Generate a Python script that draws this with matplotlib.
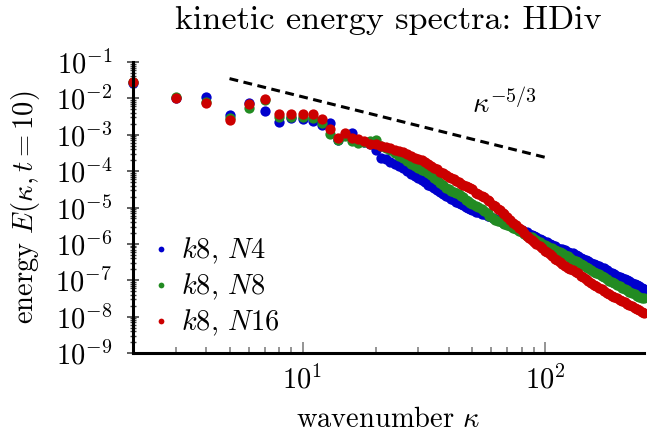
import numpy as np
import matplotlib
matplotlib.use("Agg")
import matplotlib.pyplot as plt
from matplotlib.ticker import LogLocator, FixedLocator, NullFormatter

plt.rcParams.update({
    "font.family": "cmr10",
    "mathtext.fontset": "cm",
    "axes.formatter.use_mathtext": True,
    "font.size": 20.5,
})

# wavenumbers (integer shells; thinned out where the points merge into a band)
K = [2, 3, 4, 5, 6, 7, 8, 9, 10, 11, 12, 13, 14, 15, 16, 17, 18, 19, 20, 21,
     22, 23, 24, 25, 26, 27, 28, 29,
     30, 31, 32, 33, 34, 35, 36, 37, 38, 39, 40,
     41, 42, 43, 44, 45, 46, 47, 48, 49, 50,
     52, 53, 55, 56, 58, 59, 61, 62, 64, 65,
     67, 68, 70, 72, 74, 76, 78, 80, 82, 84,
     86, 88, 90, 92, 95, 97, 100, 102, 105, 107,
     110, 112, 115, 118, 121, 124, 127, 130, 134, 137,
     141, 144, 148, 151, 155, 159, 163, 167, 171, 175,
     180, 184, 189, 193, 198, 203, 208, 213, 218, 223,
     229, 234, 240, 245, 251, 256]

# log10 of E(kappa, t=10)
LOG_E_N4 = [-1.57, -1.98, -1.97, -2.46, -2.12, -2.34, -2.65, -2.55, -2.58, -2.63,
            -2.72, -2.69, -3.13, -3.00, -2.94, -3.19, -3.19, -3.24, -3.42, -3.63,
            -3.67, -3.75, -3.81, -3.87, -3.92, -4.00, -4.09, -4.14,
            -4.20, -4.25, -4.30, -4.37, -4.42, -4.47, -4.53, -4.58, -4.62, -4.68, -4.72,
            -4.76, -4.80, -4.84, -4.88, -4.90, -4.93, -4.98, -5.02, -5.05, -5.08,
            -5.11, -5.13, -5.17, -5.19, -5.23, -5.24, -5.29, -5.31, -5.35, -5.37,
            -5.40, -5.42, -5.46, -5.49, -5.53, -5.57, -5.60, -5.63, -5.66, -5.68,
            -5.72, -5.75, -5.79, -5.82, -5.87, -5.90, -5.94, -5.96, -6.00, -6.03,
            -6.07, -6.10, -6.13, -6.15, -6.18, -6.21, -6.24, -6.26, -6.30, -6.34,
            -6.38, -6.41, -6.45, -6.48, -6.52, -6.55, -6.59, -6.62, -6.65, -6.67,
            -6.72, -6.76, -6.80, -6.83, -6.87, -6.90, -6.93, -6.96, -7.00, -7.03,
            -7.07, -7.10, -7.14, -7.17, -7.20, -7.23]
LOG_E_N8 = [-1.55, -1.96, -2.09, -2.55, -2.27, -2.05, -2.52, -2.50, -2.50, -2.55,
            -2.67, -2.98, -3.15, -3.04, -3.18, -3.22, -3.21, -3.18, -3.13, -3.31,
            -3.37, -3.42, -3.51, -3.59, -3.64, -3.73, -3.81, -3.87,
            -3.92, -3.96, -4.00, -4.05, -4.11, -4.18, -4.25, -4.32, -4.39, -4.45, -4.50,
            -4.54, -4.58, -4.61, -4.64, -4.68, -4.72, -4.78, -4.83, -4.87, -4.91,
            -4.96, -4.99, -5.05, -5.10, -5.16, -5.22, -5.28, -5.33, -5.36, -5.38,
            -5.42, -5.44, -5.47, -5.50, -5.55, -5.60, -5.64, -5.68, -5.73, -5.77,
            -5.80, -5.82, -5.86, -5.90, -5.95, -5.99, -6.04, -6.07, -6.10, -6.12,
            -6.16, -6.19, -6.23, -6.26, -6.30, -6.34, -6.38, -6.43, -6.47, -6.51,
            -6.55, -6.59, -6.63, -6.67, -6.72, -6.76, -6.80, -6.84, -6.88, -6.92,
            -6.97, -7.01, -7.04, -7.07, -7.12, -7.16, -7.20, -7.23, -7.27, -7.31,
            -7.35, -7.38, -7.42, -7.45, -7.48, -7.50]
LOG_E_N16 = [-1.54, -1.99, -2.14, -2.60, -2.16, -2.03, -2.44, -2.43, -2.43, -2.43,
             -2.57, -2.83, -3.09, -2.94, -3.10, -3.12, -3.18, -3.24, -3.24, -3.31,
             -3.34, -3.37, -3.41, -3.45, -3.48, -3.53, -3.59, -3.63,
             -3.66, -3.70, -3.75, -3.81, -3.87, -3.91, -3.95, -4.01, -4.06, -4.11, -4.15,
             -4.19, -4.22, -4.26, -4.30, -4.35, -4.39, -4.42, -4.44, -4.47, -4.50,
             -4.59, -4.64, -4.69, -4.72, -4.79, -4.83, -4.92, -4.96, -5.04, -5.08,
             -5.15, -5.19, -5.27, -5.35, -5.42, -5.49, -5.56, -5.63, -5.70, -5.77,
             -5.83, -5.88, -5.94, -5.99, -6.07, -6.12, -6.19, -6.23, -6.29, -6.34,
             -6.41, -6.45, -6.51, -6.56, -6.61, -6.65, -6.69, -6.72, -6.77, -6.81,
             -6.87, -6.92, -6.97, -7.02, -7.07, -7.12, -7.17, -7.21, -7.25, -7.29,
             -7.34, -7.38, -7.42, -7.45, -7.49, -7.53, -7.57, -7.60, -7.64, -7.67,
             -7.71, -7.75, -7.79, -7.83, -7.86, -7.89]

# kappa^(-5/3) guide line
K_REF = [5, 100]
E_REF = [3.5e-2, 2.4e-4]

SERIES = [
    (r"$k8$, $N4$", LOG_E_N4, "#0000cd"),
    (r"$k8$, $N8$", LOG_E_N8, "#228b22"),
    (r"$k8$, $N16$", LOG_E_N16, "#cc0000"),
]

fig = plt.figure(figsize=(6.47, 4.38), dpi=100)
ax = fig.add_axes([0.2056, 0.194, 0.7898, 0.6644])

for label, loge, color in SERIES:
    ax.plot(K, 10.0 ** np.array(loge), "o", ms=7.4, mew=0, color=color,
            label=label, clip_on=False)

ax.plot(K_REF, E_REF, color="black", lw=2.2, ls=(0, (2.9, 1.8)))
ax.text(50, 3.9e-3, r"$\kappa^{-5/3}$", ha="left", va="baseline")

ax.set_xscale("log")
ax.set_yscale("log")
ax.set_xlim(2, 256)
ax.set_ylim(1e-9, 1e-1)

ax.xaxis.set_major_locator(FixedLocator([10, 100]))
ax.xaxis.set_minor_locator(FixedLocator([3, 4, 5, 6, 7, 8, 9,
                                         20, 30, 40, 50, 60, 70, 80, 90]))
ax.xaxis.set_minor_formatter(NullFormatter())
ax.yaxis.set_major_locator(LogLocator(base=10, numticks=20))
ax.yaxis.set_minor_locator(LogLocator(base=10, subs=np.arange(2, 10), numticks=100))
ax.yaxis.set_minor_formatter(NullFormatter())

for side in ("top", "right"):
    ax.spines[side].set_visible(False)
for side in ("left", "bottom"):
    ax.spines[side].set_linewidth(2.2)

ax.tick_params(axis="x", which="major", direction="in", length=8, width=1.1,
               color="#777777", pad=9)
ax.tick_params(axis="x", which="minor", direction="in", length=4.5, width=1.1,
               color="#777777")
ax.tick_params(axis="y", which="major", direction="inout", length=8, width=1.2,
               color="#444444", pad=11)
ax.tick_params(axis="y", which="minor", direction="inout", length=5, width=1.0,
               color="#444444")

ax.set_title("kinetic energy spectra: HDiv", pad=23.5)
ax.set_xlabel(r"wavenumber $\kappa$", va="baseline")
ax.xaxis.set_label_coords(0.5, -0.254)
ax.set_ylabel(r"energy $E(\kappa, t = 10)$", va="baseline")
ax.yaxis.set_label_coords(-0.196, 0.5)

ax.legend(loc="upper left", bbox_to_anchor=(0.041, 0.402), frameon=False,
          borderpad=0, borderaxespad=0, markerscale=0.56, handlelength=0.5,
          handletextpad=0.45, labelspacing=0.2)

fig.savefig("out.png", dpi=100)
